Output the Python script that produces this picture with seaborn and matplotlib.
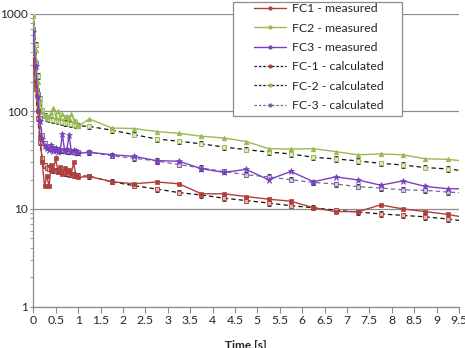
import numpy as np
import pandas as pd
import matplotlib.pyplot as plt
from matplotlib.patches import Rectangle
from matplotlib.lines import Line2D
import seaborn as sns

# sample times: dense start, then every 0.5 s
t_fine = [0.0, 0.05, 0.1, 0.15, 0.2, 0.25, 0.3, 0.35, 0.4, 0.45, 0.5,
          0.55, 0.6, 0.65, 0.7, 0.75, 0.8, 0.85, 0.9, 0.95, 1.0]
t_coarse = [1.25, 1.75, 2.25, 2.75, 3.25, 3.75, 4.25, 4.75, 5.25,
            5.75, 6.25, 6.75, 7.25, 7.75, 8.25, 8.75, 9.25, 9.75]
time = t_fine + t_coarse

fc1_meas = [345, 190, 100, 55, 30, 17, 22, 17, 28, 25, 33, 24, 27, 23, 26, 24, 25, 23, 30, 22, 21,
            21.5, 19, 18.1, 18.9, 18.1, 14.3, 14.3, 13.4, 12.6, 12.0, 10.3, 9.4, 9.4, 11.0, 10.0, 9.4, 8.8, 8.0]
fc2_meas = [950, 420, 200, 125, 98, 92, 88, 90, 95, 108, 88, 100, 86, 94, 88, 90, 85, 93, 82, 80, 70,
            83.5, 67.4, 66.5, 62, 59.4, 55.5, 53.3, 49, 41.4, 41, 41.4, 38.6, 35.8, 36.6, 35.8, 32.6, 32.2, 30.4]
fc3_meas = [640, 290, 140, 80, 52, 44, 42, 40, 45, 39, 42, 38, 40, 58, 39, 41, 57, 38, 40, 39, 37,
            38, 35.9, 34.5, 31.2, 30.8, 25.8, 23.7, 25.4, 19.9, 24.2, 19.0, 21.3, 19.8, 17.5, 19.4, 17.0, 16.1, 16.1]

fc1_calc = [360, 170, 85, 48, 33, 28, 26.5, 25.8, 25.3, 24.9, 24.6, 24.3, 24.0, 23.7, 23.4, 23.1, 22.8, 22.5, 22.3, 22.1, 21.9,
            21.6, 19, 17.3, 16, 14.7, 13.9, 12.9, 12.2, 11.5, 10.8, 10.3, 9.7, 9.3, 8.9, 8.6, 8.3, 7.9, 7.4]
fc2_calc = [1000, 480, 230, 135, 102, 90, 85, 83, 82, 81, 80, 79, 78, 77, 76, 75, 74.5, 74, 73, 72, 71,
            70, 64, 57.6, 52, 49.3, 46.4, 43, 40.5, 38.2, 36.6, 33.8, 32.5, 31, 29.3, 28.2, 26.5, 25.7, 24.0]
fc3_calc = [680, 310, 150, 85, 57, 47, 44, 42.5, 41.8, 41.2, 40.8, 40.4, 40.1, 39.8, 39.5, 39.2, 38.9, 38.7, 38.5, 38.3, 38.1,
            38, 35, 33, 31, 28.4, 26.3, 24.2, 22.4, 21.3, 19.9, 18.7, 18.0, 16.9, 16.4, 15.7, 15.5, 14.9, 14.5]

sns.set_theme(style='white')
plt.rcParams['font.family'] = ['Lato', 'DejaVu Sans']

fig = plt.figure(figsize=(4.65, 3.48), dpi=100)
ax = fig.add_axes([33.3 / 465, 1 - 306.7 / 348, (459 - 33.3) / 465, (306.7 - 13.5) / 348])

df = pd.DataFrame({'time': time,
                   'FC1 - measured': fc1_meas, 'FC2 - measured': fc2_meas, 'FC3 - measured': fc3_meas,
                   'FC-1 - calculated': fc1_calc, 'FC-2 - calculated': fc2_calc, 'FC-3 - calculated': fc3_calc})

meas = [('FC1 - measured', '#B0403C', 's'),
        ('FC2 - measured', '#98B954', '^'),
        ('FC3 - measured', '#7A3FBF', '*')]
calc = [('FC-1 - calculated', '#111111', '#E8B4B2', '#B0403C'),
        ('FC-2 - calculated', '#111111', '#DCE8C0', '#98B954'),
        ('FC-3 - calculated', '#6E6A9E', '#D4C8E4', '#7A5FA0')]

for name, lc, fc, ec in calc:
    ax.errorbar(df['time'], df[name], yerr=df[name] * 0.06, fmt='none', ecolor='#222222',
                elinewidth=0.6, capsize=1.5, capthick=0.6, zorder=2)
    sns.lineplot(x=df['time'], y=df[name], ax=ax, color=lc, lw=0.9, ls=(0, (3.5, 2.5)),
                 marker='s', ms=3.2, markerfacecolor=fc, markeredgecolor=ec, markeredgewidth=0.6,
                 sort=False, estimator=None, legend=False, zorder=3)

for name, c, m in meas:
    sns.lineplot(x=df['time'], y=df[name], ax=ax, color=c, lw=1.0, marker=m,
                 ms=3.3 if m != '*' else 5, markeredgecolor=c, markerfacecolor=c, markeredgewidth=0.5,
                 sort=False, estimator=None, legend=False, zorder=4)

ax.set_yscale('log')
ax.set_ylim(1, 1000)
ax.set_xlim(0, 9.5)
ax.set_xticks(np.arange(0, 9.51, 0.5))
ax.set_xticklabels([f'{v:g}' for v in np.arange(0, 9.51, 0.5)])
ax.set_yticks([1, 10, 100, 1000])
ax.set_yticklabels(['1', '10', '100', '1000'])
ax.yaxis.grid(True, which='major', color='#8c8c8c', lw=0.9)
ax.xaxis.grid(False)
for s in ['top', 'right']:
    ax.spines[s].set_visible(False)
for s in ['left', 'bottom']:
    ax.spines[s].set_color('#8c8c8c')
    ax.spines[s].set_linewidth(0.9)
ax.tick_params(axis='x', which='major', direction='out', length=4, width=0.8, color='#8c8c8c',
               labelsize=8.8, pad=2, bottom=True)
ax.tick_params(axis='y', which='major', direction='out', length=2.5, width=0.8, color='#8c8c8c',
               labelsize=8.6, pad=1.5, left=True)
ax.tick_params(axis='y', which='minor', direction='out', length=2.5, width=0.6, color='#8c8c8c', left=True)
ax.tick_params(axis='x', which='minor', bottom=False)
ax.set_xlabel('Time [s]', fontsize=8.5, fontweight='bold', labelpad=10)
ax.set_ylabel('Counts', fontsize=8.8, fontweight='bold', labelpad=1)

# legend box
fig.add_artist(Rectangle((232.7 / 465, 1 - 116 / 348), 169 / 465, 114.3 / 348, transform=fig.transFigure,
                         facecolor='white', edgecolor='#8c8c8c', lw=0.9, zorder=5))
handles = []
for name, c, m in meas:
    handles.append(Line2D([], [], color=c, lw=1.0, marker='o', ms=2, label=name))
for name, lc, fc, ec in calc:
    handles.append(Line2D([], [], color=lc, lw=0.9, ls=(0, (2, 1.5)), marker='o', ms=2,
                          markerfacecolor=ec, markeredgecolor=ec, label=name))
fig.legend(handles=handles, loc='upper left', bbox_to_anchor=(252 / 465, 1 - 1 / 348), frameon=False,
           fontsize=8.8, handlelength=2.6, handletextpad=0.5, labelspacing=0.68, borderpad=0.2,
           borderaxespad=0).set_zorder(6)

fig.savefig('out.png', dpi=100)
